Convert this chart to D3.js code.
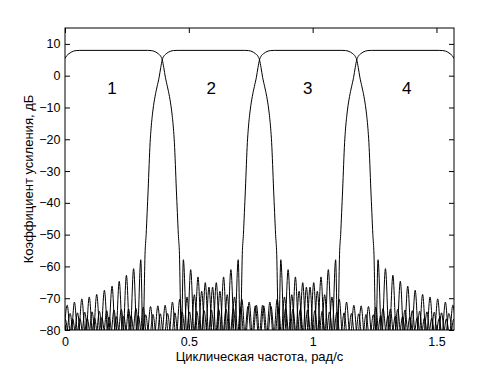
<!DOCTYPE html>
<html>
<head>
<meta charset="utf-8">
<script src="https://cdn.jsdelivr.net/npm/d3@7"></script>
<style>
  html, body { margin: 0; padding: 0; background: #fff; }
  svg { display: block; }
</style>
</head>
<body>
<svg id="chart" width="502" height="371"></svg>
<script>
const svg = document.getElementById("chart");

// axis ticks
const xTicks = [0, 0.5, 1, 1.5];
const yTicks = [10, 0, -10, -20, -30, -40, -50, -60, -70, -80];
const xLabel = "Циклическая частота, рад/с";
const yLabel = "Коэффициент усиления, дБ";

// band numbers
const bandNames = ["1", "2", "3", "4"];
const bandNameX = [0.19, 0.59, 0.98, 1.38];
const bandNameY = -5.8;

// main lobes [freq, dB]
const main1 = [[0, 5.4], [0.007, 6.3], [0.016, 6.9], [0.025, 7.4], [0.035, 7.75], [0.045, 7.9], [0.06, 7.96],
  [0.3327, 7.96], [0.3477, 7.9], [0.3577, 7.75], [0.3677, 7.4], [0.3767, 6.9], [0.3857, 6.2], [0.3927, 5.0],
  [0.3987, 2.6], [0.4053, -0.5], [0.4137, -3.5], [0.4217, -6.5], [0.4297, -10.5], [0.4377, -16.5], [0.4417, -21],
  [0.4457, -28], [0.4497, -36], [0.4537, -43], [0.4577, -50], [0.4617, -55]];
const main2 = [[0.3237, -55], [0.3277, -50], [0.3317, -43], [0.3357, -36], [0.3397, -28], [0.3437, -21],
  [0.3477, -16.5], [0.3557, -10.5], [0.3637, -6.5], [0.3717, -3.5], [0.3801, -0.5], [0.3867, 2.6], [0.3927, 5.0],
  [0.3997, 6.2], [0.4087, 6.9], [0.4177, 7.4], [0.4277, 7.75], [0.4377, 7.9], [0.4527, 7.96],
  [0.7254, 7.96], [0.7404, 7.9], [0.7504, 7.75], [0.7604, 7.4], [0.7694, 6.9], [0.7784, 6.2], [0.7854, 5.0],
  [0.7914, 2.6], [0.798, -0.5], [0.8064, -3.5], [0.8144, -6.5], [0.8224, -10.5], [0.8304, -16.5], [0.8344, -21],
  [0.8384, -28], [0.8424, -36], [0.8464, -43], [0.8504, -50], [0.8544, -55]];
const main3 = [[0.7164, -55], [0.7204, -50], [0.7244, -43], [0.7284, -36], [0.7324, -28], [0.7364, -21],
  [0.7404, -16.5], [0.7484, -10.5], [0.7564, -6.5], [0.7644, -3.5], [0.7728, -0.5], [0.7794, 2.6], [0.7854, 5.0],
  [0.7924, 6.2], [0.8014, 6.9], [0.8104, 7.4], [0.8204, 7.75], [0.8304, 7.9], [0.8454, 7.96],
  [1.1181, 7.96], [1.1331, 7.9], [1.1431, 7.75], [1.1531, 7.4], [1.1621, 6.9], [1.1711, 6.2], [1.1781, 5.0],
  [1.1841, 2.6], [1.1907, -0.5], [1.1991, -3.5], [1.2071, -6.5], [1.2151, -10.5], [1.2231, -16.5], [1.2271, -21],
  [1.2311, -28], [1.2351, -36], [1.2391, -43], [1.2431, -50], [1.2471, -55]];
const main4 = [[1.1091, -55], [1.1131, -50], [1.1171, -43], [1.1211, -36], [1.1251, -28], [1.1291, -21],
  [1.1331, -16.5], [1.1411, -10.5], [1.1491, -6.5], [1.1571, -3.5], [1.1655, -0.5], [1.1721, 2.6], [1.1781, 5.0],
  [1.1851, 6.2], [1.1941, 6.9], [1.2031, 7.4], [1.2131, 7.75], [1.2231, 7.9], [1.2381, 7.96],
  [1.5108, 7.96], [1.5258, 7.9], [1.5358, 7.75], [1.5458, 7.4], [1.5548, 6.9], [1.5638, 6.3], [1.5708, 5.4]];

// side lobe peaks [freq, dB]
const left1 = [];
const right1 = [[0.478, -57.9], [0.5075, -61.0], [0.537, -63.3], [0.5665, -65.1], [0.596, -66.5], [0.6255, -67.8],
  [0.655, -68.9], [0.6845, -69.6], [0.714, -70.3], [0.7435, -71.2], [0.773, -72.2], [0.8025, -72.4], [0.832, -72.6],
  [0.8615, -72.8], [0.891, -73.2], [0.9205, -73.4], [0.95, -73.5], [0.9795, -73.7], [1.009, -73.9], [1.0385, -74.1],
  [1.068, -74.3], [1.0975, -74.4], [1.127, -74.6], [1.1565, -74.8], [1.186, -74.9], [1.2155, -75.1], [1.245, -75.2],
  [1.2745, -75.4], [1.304, -75.5], [1.3335, -75.7], [1.363, -75.8], [1.3925, -75.9], [1.422, -76.1], [1.4515, -76.2],
  [1.481, -76.3], [1.5105, -76.4], [1.54, -76.5], [1.5695, -76.6]];
const left2 = [[0.009, -72.2], [0.038, -71.2], [0.068, -70.2], [0.098, -69.6], [0.128, -68.8], [0.159, -67.5],
  [0.19, -66.2], [0.219, -64.7], [0.248, -62.8], [0.277, -60.7], [0.306, -57.9]];
const right2 = [[0.8714, -57.9], [0.9009, -61.0], [0.9304, -63.3], [0.9599, -65.1], [0.9894, -66.5], [1.0189, -67.8],
  [1.0484, -68.9], [1.0779, -69.6], [1.1074, -70.3], [1.1369, -71.2], [1.1664, -72.2], [1.1959, -72.4], [1.2254, -72.6],
  [1.2549, -72.8], [1.2844, -73.2], [1.3139, -73.4], [1.3434, -73.5], [1.3729, -73.7], [1.4024, -73.9], [1.4319, -74.1],
  [1.4614, -74.3], [1.4909, -74.4], [1.5204, -74.6], [1.5499, -74.8]];
const left3 = [[0.0209, -74.8], [0.0504, -74.6], [0.0799, -74.4], [0.1094, -74.3], [0.1389, -74.1], [0.1684, -73.9],
  [0.1979, -73.7], [0.2274, -73.5], [0.2569, -73.4], [0.2864, -73.2], [0.3159, -72.8], [0.3454, -72.6], [0.3749, -72.4],
  [0.4044, -72.2], [0.4339, -71.2], [0.4634, -70.3], [0.4929, -69.6], [0.5224, -68.9], [0.5519, -67.8], [0.5814, -66.5],
  [0.6109, -65.1], [0.6404, -63.3], [0.6699, -61.0], [0.6994, -57.9]];
const right3 = [[1.264, -57.9], [1.294, -60.7], [1.324, -62.8], [1.354, -64.7], [1.384, -66.2], [1.414, -67.5],
  [1.444, -68.8], [1.474, -69.6], [1.505, -70.2], [1.536, -71.2], [1.566, -72.2]];
const left4 = [[0.0013, -76.6], [0.0308, -76.5], [0.0603, -76.4], [0.0898, -76.3], [0.1193, -76.2], [0.1488, -76.1],
  [0.1783, -75.9], [0.2078, -75.8], [0.2373, -75.7], [0.2668, -75.5], [0.2963, -75.4], [0.3258, -75.2], [0.3553, -75.1],
  [0.3848, -74.9], [0.4143, -74.8], [0.4438, -74.6], [0.4733, -74.4], [0.5028, -74.3], [0.5323, -74.1], [0.5618, -73.9],
  [0.5913, -73.7], [0.6208, -73.5], [0.6503, -73.4], [0.6798, -73.2], [0.7093, -72.8], [0.7388, -72.6], [0.7683, -72.4],
  [0.7978, -72.2], [0.8273, -71.2], [0.8568, -70.3], [0.8863, -69.6], [0.9158, -68.9], [0.9453, -67.8], [0.9748, -66.5],
  [1.0043, -65.1], [1.0338, -63.3], [1.0633, -61.0], [1.0928, -57.9]];
const right4 = [];

const filters = [
  { left: left1, main: main1, right: right1 },
  { left: left2, main: main2, right: right2 },
  { left: left3, main: main3, right: right3 },
  { left: left4, main: main4, right: right4 }
];

// layout
const plotLeft = 65, plotRight = 454, plotTop = 28, plotBottom = 330;
const floorDb = -83; // lobes dip just under the axis floor
const tickFont = "12.5px 'Liberation Sans', Arial, sans-serif";

const x = d3.scaleLinear().domain([0, Math.PI / 2]).range([plotLeft, plotRight]);
const y = d3.scaleLinear().domain([-80, 15]).range([plotBottom, plotTop]);

const root = d3.select(svg);

root.append("defs")
  .append("clipPath")
  .attr("id", "plotClip")
  .append("rect")
  .attr("x", plotLeft)
  .attr("y", plotTop)
  .attr("width", plotRight - plotLeft)
  .attr("height", plotBottom - plotTop);

// side lobes fall to the floor between peaks
function buildCurve(left, main, right) {
  let pts = [];
  left.forEach((p, i) => {
    let next = i < left.length - 1 ? left[i + 1] : main[0];
    if (i === 0) pts.push([p[0] - (next[0] - p[0]) / 2, floorDb]);
    pts.push(p);
    pts.push([(p[0] + next[0]) / 2, floorDb]);
  });
  main.forEach(p => pts.push(p));
  right.forEach((p, i) => {
    let prev = i === 0 ? main[main.length - 1] : right[i - 1];
    pts.push([(prev[0] + p[0]) / 2, floorDb]);
    pts.push(p);
    if (i === right.length - 1) pts.push([p[0] + (p[0] - prev[0]) / 2, floorDb]);
  });
  return pts;
}

const line = d3.line()
  .x(d => x(d[0]))
  .y(d => y(d[1]))
  .curve(d3.curveMonotoneX);

const curves = root.append("g").attr("clip-path", "url(#plotClip)");
filters.forEach(f => {
  curves.append("path")
    .attr("d", line(buildCurve(f.left, f.main, f.right)))
    .attr("fill", "none")
    .attr("stroke", "black")
    .attr("stroke-width", 1);
});

// band numbers
bandNames.forEach((name, i) => {
  root.append("text")
    .attr("x", x(bandNameX[i]))
    .attr("y", y(bandNameY))
    .attr("text-anchor", "middle")
    .style("font", "17px 'Liberation Sans', Arial, sans-serif")
    .style("fill", "black")
    .text(name);
});

// axes, MATLAB style: ticks inside on all four sides
function styleAxis(g) {
  g.select(".domain").remove();
  g.selectAll("line").attr("stroke", "black");
  g.selectAll("text").style("font", tickFont).style("fill", "black");
}

root.append("g")
  .attr("transform", `translate(0,${plotBottom})`)
  .call(d3.axisBottom(x).tickValues(xTicks).tickFormat(d3.format("")).tickSizeInner(-5).tickSizeOuter(0).tickPadding(7))
  .call(styleAxis);

root.append("g")
  .attr("transform", `translate(0,${plotTop})`)
  .call(d3.axisTop(x).tickValues(xTicks).tickFormat("").tickSizeInner(-5).tickSizeOuter(0))
  .call(styleAxis);

root.append("g")
  .attr("transform", `translate(${plotLeft},0)`)
  .call(d3.axisLeft(y).tickValues(yTicks).tickFormat(d3.format("")).tickSizeInner(-5).tickSizeOuter(0).tickPadding(4.5))
  .call(styleAxis);

root.append("g")
  .attr("transform", `translate(${plotRight},0)`)
  .call(d3.axisRight(y).tickValues(yTicks).tickFormat("").tickSizeInner(-5).tickSizeOuter(0))
  .call(styleAxis);

// frame
root.append("rect")
  .attr("x", plotLeft)
  .attr("y", plotTop)
  .attr("width", plotRight - plotLeft)
  .attr("height", plotBottom - plotTop)
  .attr("fill", "none")
  .attr("stroke", "black")
  .attr("stroke-width", 1);

// axis titles
root.append("text")
  .attr("x", (plotLeft + plotRight) / 2)
  .attr("y", 361)
  .attr("text-anchor", "middle")
  .style("font", "13px 'Liberation Sans', Arial, sans-serif")
  .style("fill", "black")
  .text(xLabel);

root.append("text")
  .attr("transform", `translate(33,${(plotTop + plotBottom) / 2}) rotate(-90)`)
  .attr("text-anchor", "middle")
  .style("font", "13px 'Liberation Sans', Arial, sans-serif")
  .style("fill", "black")
  .text(yLabel);
</script>
</body>
</html>
